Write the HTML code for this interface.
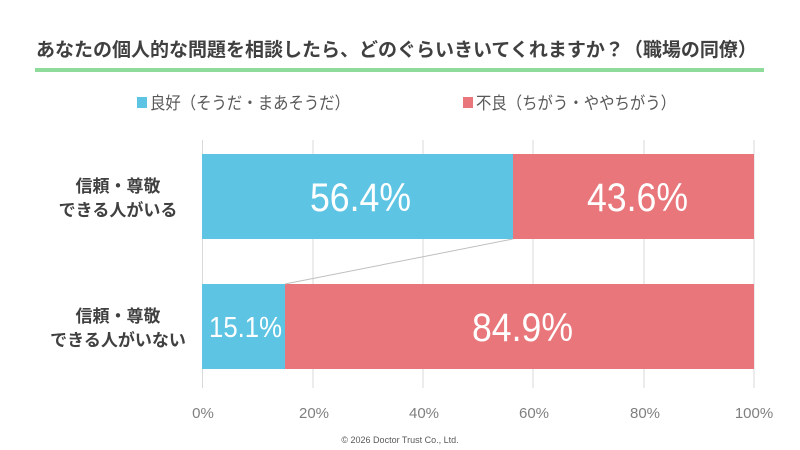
<!DOCTYPE html>
<html><head><meta charset="utf-8"><style>
body{margin:0;width:800px;height:450px;background:#fff;overflow:hidden}
svg{display:block}
text{font-family:"Liberation Sans","Noto Sans CJK JP",sans-serif}
</style></head><body>
<svg width="800" height="450" xmlns="http://www.w3.org/2000/svg">
<text x="36" y="56" font-size="19" font-weight="bold" fill="#404040">あなたの個人的な問題を相談したら、どのぐらいきいてくれますか？（職場の同僚）</text>
<rect x="35" y="68" width="729" height="4" fill="#8FDB9B"/>
<rect x="137" y="97" width="10" height="11" fill="#5EC4E4"/>
<text x="150" y="109" font-size="17" fill="#595959" textLength="200" lengthAdjust="spacingAndGlyphs">良好（そうだ・まあそうだ）</text>
<rect x="463" y="97" width="10" height="11" fill="#E8767A"/>
<text x="476" y="109" font-size="17" fill="#595959" textLength="200" lengthAdjust="spacingAndGlyphs">不良（ちがう・ややちがう）</text>
<g stroke="#d9d9d9" stroke-width="1">
<line x1="202.5" y1="140" x2="202.5" y2="388"/>
<line x1="313" y1="140" x2="313" y2="388"/>
<line x1="423" y1="140" x2="423" y2="388"/>
<line x1="533" y1="140" x2="533" y2="388"/>
<line x1="644" y1="140" x2="644" y2="388"/>
<line x1="754" y1="140" x2="754" y2="388"/>
</g>
<rect x="202" y="154" width="311" height="85" fill="#5EC4E4"/>
<rect x="513" y="154" width="241" height="85" fill="#E8767A"/>
<rect x="202" y="284" width="83" height="85" fill="#5EC4E4"/>
<rect x="285" y="284" width="469" height="85" fill="#E8767A"/>
<line x1="513" y1="239" x2="285" y2="284" stroke="#bfbfbf" stroke-width="1"/>
<g fill="#fff" font-size="40">
<text x="310" y="211" textLength="101" lengthAdjust="spacingAndGlyphs">56.4%</text>
<text x="587" y="211" textLength="101" lengthAdjust="spacingAndGlyphs">43.6%</text>
<text x="472" y="341" textLength="101" lengthAdjust="spacingAndGlyphs">84.9%</text>
<text x="209" y="337" font-size="29" textLength="73" lengthAdjust="spacingAndGlyphs">15.1%</text>
</g>
<g fill="#404040" font-size="17" font-weight="bold" text-anchor="middle">
<text x="118" y="192">信頼・尊敬</text>
<text x="118" y="216">できる人がいる</text>
<text x="118" y="322">信頼・尊敬</text>
<text x="118" y="346">できる人がいない</text>
</g>
<g fill="#7f7f7f" font-size="15" text-anchor="middle">
<text x="203" y="418">0%</text>
<text x="314" y="418">20%</text>
<text x="424" y="418">40%</text>
<text x="534" y="418">60%</text>
<text x="645" y="418">80%</text>
<text x="754" y="418">100%</text>
</g>
<text x="400" y="443" font-size="9" fill="#595959" text-anchor="middle">©  2026 Doctor Trust Co., Ltd.</text>
</svg>
</body></html>
